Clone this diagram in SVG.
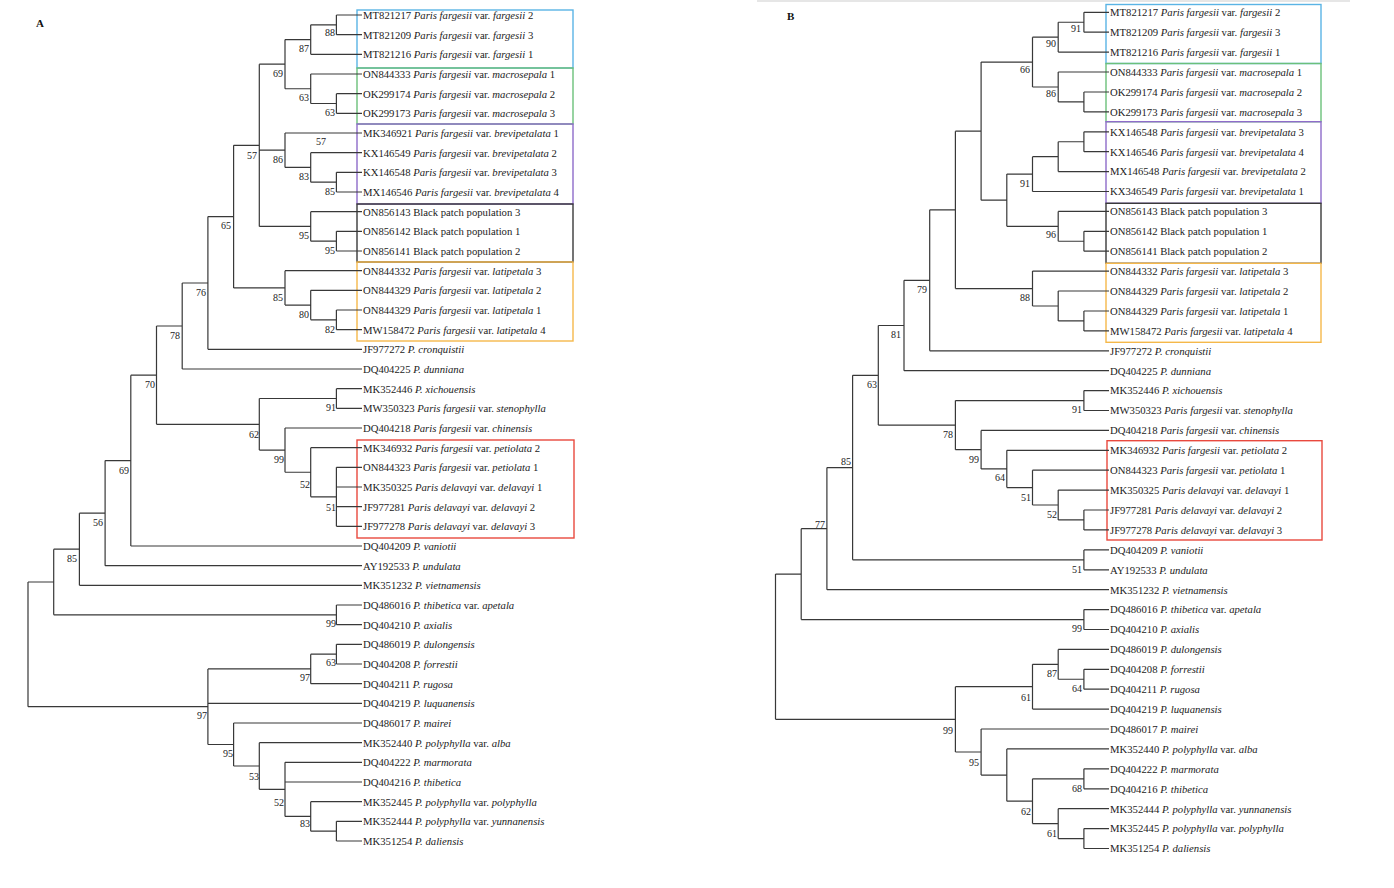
<svg xmlns="http://www.w3.org/2000/svg" width="1394" height="888" viewBox="0 0 1394 888">
<style>
.br{fill:none;stroke:#383838;stroke-width:1.2}
.lf{font-family:"Liberation Serif","Times New Roman",serif;font-size:10.7px;fill:#222}
.bs{font-family:"Liberation Serif","Times New Roman",serif;font-size:10px;fill:#222;text-anchor:end}
.i{font-style:italic}
.bx{fill:none;stroke-width:1.4}
.pl{font-family:"Liberation Serif","Times New Roman",serif;font-size:11px;font-weight:bold;fill:#111}
</style>
<rect width="1394" height="888" fill="#fff"/>
<line x1="757" y1="1" x2="1350" y2="1" stroke="#e6e6e6" stroke-width="2"/>
<text class="pl" x="36" y="27">A</text>
<text class="pl" x="787" y="20">B</text>

<g id="boxes">
<rect class="bx" x="357" y="10" width="216" height="58" stroke="#5ab4e5"/>
<rect class="bx" x="357" y="68" width="216" height="56" stroke="#6cc07a"/>
<rect class="bx" x="357" y="124" width="216" height="80" stroke="#8e6cc9"/>
<rect class="bx" x="357" y="204" width="216" height="58" stroke="#3a3a3a"/>
<rect class="bx" x="357" y="262" width="216" height="79" stroke="#f5b84a"/>
<rect class="bx" x="357" y="440" width="217" height="98" stroke="#e9493e"/>
<rect class="bx" x="1106" y="4.5" width="215" height="59" stroke="#5ab4e5"/>
<rect class="bx" x="1106" y="63.5" width="215" height="58.2" stroke="#6cc07a"/>
<rect class="bx" x="1106" y="121.7" width="215" height="81.6" stroke="#8e6cc9"/>
<rect class="bx" x="1106" y="203.3" width="215" height="60" stroke="#3a3a3a"/>
<rect class="bx" x="1106" y="263.3" width="215" height="79" stroke="#f5b84a"/>
<rect class="bx" x="1107" y="440.7" width="215" height="99.3" stroke="#e9493e"/>
</g>

<g id="connectors">
<path class="br" d="M336.4,15V34.7M336.4,15H362M336.4,34.7H362
M310.7,24.85V54.3M310.7,24.85H336.4M310.7,54.3H362
M336.4,93.7V113.3M336.4,93.7H362M336.4,113.3H362
M310.7,74V103.5M310.7,74H362M310.7,103.5H336.4
M285,39.6V88.75M285,39.6H310.7M285,88.75H310.7
M336.4,172.3V192M336.4,172.3H362M336.4,192H362
M310.7,152.7V182.15M310.7,152.7H362M310.7,182.15H336.4
M285,133V167.4M285,133H362M285,167.4H310.7
M336.4,231.3V251M336.4,231.3H362M336.4,251H362
M310.7,211.7V241.15M310.7,211.7H362M310.7,241.15H336.4
M259.3,64.2V226.4M259.3,64.2H285M259.3,150.2H285M259.3,226.4H310.7
M336.4,310V329.7M336.4,310H362M336.4,329.7H362
M310.7,290.3V319.85M310.7,290.3H362M310.7,319.85H336.4
M285,270.7V305.1M285,270.7H362M285,305.1H310.7
M233.6,145.3V287.9M233.6,145.3H259.3M233.6,287.9H285
M207.9,216.6V349.3M207.9,216.6H233.6M207.9,349.3H362
M182.2,283V369M182.2,283H207.9M182.2,369H362
M336.4,388.7V408.3M336.4,388.7H362M336.4,408.3H362
M336.4,467.3V526.3M336.4,467.3H362M336.4,487H362M336.4,506.7H362M336.4,526.3H362
M310.7,447.7V496.8M310.7,447.7H362M310.7,496.8H336.4
M285,428V472.25M285,428H362M285,472.25H310.7
M259.3,398.5V450.1M259.3,398.5H336.4M259.3,450.1H285
M156.5,326V424.3M156.5,326H182.2M156.5,424.3H259.3
M130.8,375.2V546M130.8,375.2H156.5M130.8,546H362
M105.1,460.6V565.7M105.1,460.6H130.8M105.1,565.7H362
M79.4,513.15V585.3M79.4,513.15H105.1M79.4,585.3H362
M336.4,605V624.7M336.4,605H362M336.4,624.7H362
M53.7,549.2V614.85M53.7,549.2H79.4M53.7,614.85H336.4
M336.4,644.3V664M336.4,644.3H362M336.4,664H362
M310.7,654.15V683.7M310.7,654.15H336.4M310.7,683.7H362
M336.4,821.3V841M336.4,821.3H362M336.4,841H362
M310.7,801.7V831.15M310.7,801.7H362M310.7,831.15H336.4
M285,762.3V816.4M285,762.3H362M285,782H362M285,816.4H310.7
M259.3,742.7V789.35M259.3,742.7H362M259.3,789.35H285
M233.6,723V766M233.6,723H362M233.6,766H259.3
M207.9,668.9V744.5M207.9,668.9H310.7M207.9,703.3H362M207.9,744.5H233.6
M28,582V706.7M28,582H53.7M28,706.7H207.9"/>
<path class="br" d="M1083.9,12.3V32.2M1083.9,12.3H1109M1083.9,32.2H1109
M1058.2,22.25V52.1M1058.2,22.25H1083.9M1058.2,52.1H1109
M1083.9,92V111.9M1083.9,92H1109M1083.9,111.9H1109
M1058.2,72V101.95M1058.2,72H1109M1058.2,101.95H1083.9
M1032.5,37.2V87M1032.5,37.2H1058.2M1032.5,87H1058.2
M1083.9,131.8V151.7M1083.9,131.8H1109M1083.9,151.7H1109
M1058.2,141.75V171.6M1058.2,141.75H1083.9M1058.2,171.6H1109
M1032.5,156.7V191.5M1032.5,156.7H1058.2M1032.5,191.5H1109
M1083.9,231.3V251.2M1083.9,231.3H1109M1083.9,251.2H1109
M1058.2,211.4V241.25M1058.2,211.4H1109M1058.2,241.25H1083.9
M1006.8,174.1V226.3M1006.8,174.1H1032.5M1006.8,226.3H1058.2
M981.1,62.1V200.2M981.1,62.1H1032.5M981.1,200.2H1006.8
M1083.9,311V330.9M1083.9,311H1109M1083.9,330.9H1109
M1058.2,291V320.95M1058.2,291H1109M1058.2,320.95H1083.9
M1032.5,271.1V306M1032.5,271.1H1109M1032.5,306H1058.2
M955.4,131.15V288.55M955.4,131.15H981.1M955.4,288.55H1032.5
M929.7,209.85V350.8M929.7,209.85H955.4M929.7,350.8H1109
M904,280.3V370.7M904,280.3H929.7M904,370.7H1109
M1083.9,390.6V410.5M1083.9,390.6H1109M1083.9,410.5H1109
M1083.9,510V529.9M1083.9,510H1109M1083.9,529.9H1109
M1058.2,490.1V519.95M1058.2,490.1H1109M1058.2,519.95H1083.9
M1032.5,470.2V505M1032.5,470.2H1109M1032.5,505H1058.2
M1006.8,450.3V487.6M1006.8,450.3H1109M1006.8,487.6H1032.5
M981.1,430.4V468.95M981.1,430.4H1109M981.1,468.95H1006.8
M955.4,400.55V449.7M955.4,400.55H1083.9M955.4,449.7H981.1
M878.3,325.5V425.1M878.3,325.5H904M878.3,425.1H955.4
M1083.9,549.9V569.8M1083.9,549.9H1109M1083.9,569.8H1109
M852.6,375.3V559.85M852.6,375.3H878.3M852.6,559.85H1083.9
M826.9,467.6V589.7M826.9,467.6H852.6M826.9,589.7H1109
M1083.9,609.6V629.5M1083.9,609.6H1109M1083.9,629.5H1109
M801.2,528.65V619.55M801.2,528.65H826.9M801.2,619.55H1083.9
M1083.9,669.3V689.2M1083.9,669.3H1109M1083.9,689.2H1109
M1058.2,649.4V679.25M1058.2,649.4H1109M1058.2,679.25H1083.9
M1032.5,664.3V709.1M1032.5,664.3H1058.2M1032.5,709.1H1109
M1083.9,768.8V788.8M1083.9,768.8H1109M1083.9,788.8H1109
M1083.9,828.6V848.5M1083.9,828.6H1109M1083.9,848.5H1109
M1058.2,808.7V838.55M1058.2,808.7H1109M1058.2,838.55H1083.9
M1032.5,778.8V823.6M1032.5,778.8H1083.9M1032.5,823.6H1058.2
M1006.8,748.9V801.2M1006.8,748.9H1109M1006.8,801.2H1032.5
M981.1,729V775.05M981.1,729H1109M981.1,775.05H1006.8
M955.4,686.7V752M955.4,686.7H1032.5M955.4,752H981.1
M775.5,574.1V719.35M775.5,574.1H801.2M775.5,719.35H955.4"/>
</g>

<g id="support-A">
<text class="bs" x="335" y="35.5">88</text>
<text class="bs" x="309" y="51.5">87</text>
<text class="bs" x="283" y="76.5">69</text>
<text class="bs" x="309" y="100.5">63</text>
<text class="bs" x="335" y="115.5">63</text>
<text class="bs" x="326" y="144.5">57</text>
<text class="bs" x="257" y="158.5">57</text>
<text class="bs" x="283" y="162.5">86</text>
<text class="bs" x="309" y="179.5">83</text>
<text class="bs" x="335" y="194.5">85</text>
<text class="bs" x="231" y="228.5">65</text>
<text class="bs" x="309" y="238.5">95</text>
<text class="bs" x="335" y="253.5">95</text>
<text class="bs" x="206" y="295.5">76</text>
<text class="bs" x="283" y="300.5">85</text>
<text class="bs" x="309" y="317.5">80</text>
<text class="bs" x="335" y="332.5">82</text>
<text class="bs" x="180" y="338.5">78</text>
<text class="bs" x="155" y="387.5">70</text>
<text class="bs" x="336" y="410.5">91</text>
<text class="bs" x="259" y="437.5">62</text>
<text class="bs" x="284" y="462.5">99</text>
<text class="bs" x="129" y="473.5">69</text>
<text class="bs" x="310" y="487.5">52</text>
<text class="bs" x="336" y="510.5">51</text>
<text class="bs" x="103" y="525.5">56</text>
<text class="bs" x="77" y="561.5">85</text>
<text class="bs" x="336" y="626.5">99</text>
<text class="bs" x="336" y="665.5">63</text>
<text class="bs" x="310" y="680.5">97</text>
<text class="bs" x="207" y="718.5">97</text>
<text class="bs" x="233" y="756.5">95</text>
<text class="bs" x="259" y="779.5">53</text>
<text class="bs" x="284" y="805.5">52</text>
<text class="bs" x="310" y="826.5">83</text>
</g>

<g id="support-B">
<text class="bs" x="1081" y="31.5">91</text>
<text class="bs" x="1056" y="46.5">90</text>
<text class="bs" x="1030" y="72.5">66</text>
<text class="bs" x="1056" y="96.5">86</text>
<text class="bs" x="1030" y="186.5">91</text>
<text class="bs" x="1056" y="237.5">96</text>
<text class="bs" x="927" y="292.5">79</text>
<text class="bs" x="1030" y="300.5">88</text>
<text class="bs" x="901" y="337.5">81</text>
<text class="bs" x="877" y="387.5">63</text>
<text class="bs" x="1082" y="412.5">91</text>
<text class="bs" x="953" y="437.5">78</text>
<text class="bs" x="979" y="462.5">99</text>
<text class="bs" x="851" y="464.5">85</text>
<text class="bs" x="1005" y="480.5">64</text>
<text class="bs" x="1031" y="500.5">51</text>
<text class="bs" x="1057" y="517.5">52</text>
<text class="bs" x="825" y="527.5">77</text>
<text class="bs" x="1082" y="572.5">51</text>
<text class="bs" x="1082" y="631.5">99</text>
<text class="bs" x="1057" y="676.5">87</text>
<text class="bs" x="1082" y="691.5">64</text>
<text class="bs" x="1031" y="700.5">61</text>
<text class="bs" x="953" y="733.5">99</text>
<text class="bs" x="979" y="765.5">95</text>
<text class="bs" x="1082" y="791.5">68</text>
<text class="bs" x="1031" y="814.5">62</text>
<text class="bs" x="1057" y="836.5">61</text>
</g>

<g id="A1"><text class="lf" x="363" y="18.8">MT821217 <tspan class="i">Paris fargesii</tspan> var. <tspan class="i">fargesii</tspan> 2</text></g>
<g id="A2"><text class="lf" x="363" y="38.5">MT821209 <tspan class="i">Paris fargesii</tspan> var. <tspan class="i">fargesii</tspan> 3</text></g>
<g id="A3"><text class="lf" x="363" y="58.1">MT821216 <tspan class="i">Paris fargesii</tspan> var. <tspan class="i">fargesii</tspan> 1</text></g>
<g id="A4"><text class="lf" x="363" y="77.8">ON844333 <tspan class="i">Paris fargesii</tspan> var. <tspan class="i">macrosepala</tspan> 1</text></g>
<g id="A5"><text class="lf" x="363" y="97.5">OK299174 <tspan class="i">Paris fargesii</tspan> var. <tspan class="i">macrosepala</tspan> 2</text></g>
<g id="A6"><text class="lf" x="363" y="117.1">OK299173 <tspan class="i">Paris fargesii</tspan> var. <tspan class="i">macrosepala</tspan> 3</text></g>
<g id="A7"><text class="lf" x="363" y="136.8">MK346921 <tspan class="i">Paris fargesii</tspan> var. <tspan class="i">brevipetalata</tspan> 1</text></g>
<g id="A8"><text class="lf" x="363" y="156.5">KX146549 <tspan class="i">Paris fargesii</tspan> var. <tspan class="i">brevipetalata</tspan> 2</text></g>
<g id="A9"><text class="lf" x="363" y="176.1">KX146548 <tspan class="i">Paris fargesii</tspan> var. <tspan class="i">brevipetalata</tspan> 3</text></g>
<g id="A10"><text class="lf" x="363" y="195.8">MX146546 <tspan class="i">Paris fargesii</tspan> var. <tspan class="i">brevipetalata</tspan> 4</text></g>
<g id="A11"><text class="lf" x="363" y="215.5">ON856143 Black patch population 3</text></g>
<g id="A12"><text class="lf" x="363" y="235.1">ON856142 Black patch population 1</text></g>
<g id="A13"><text class="lf" x="363" y="254.8">ON856141 Black patch population 2</text></g>
<g id="A14"><text class="lf" x="363" y="274.5">ON844332 <tspan class="i">Paris fargesii</tspan> var. <tspan class="i">latipetala</tspan> 3</text></g>
<g id="A15"><text class="lf" x="363" y="294.1">ON844329 <tspan class="i">Paris fargesii</tspan> var. <tspan class="i">latipetala</tspan> 2</text></g>
<g id="A16"><text class="lf" x="363" y="313.8">ON844329 <tspan class="i">Paris fargesii</tspan> var. <tspan class="i">latipetala</tspan> 1</text></g>
<g id="A17"><text class="lf" x="363" y="333.5">MW158472 <tspan class="i">Paris fargesii</tspan> var. <tspan class="i">latipetala</tspan> 4</text></g>
<g id="A18"><text class="lf" x="363" y="353.1">JF977272 <tspan class="i">P. cronquistii</tspan></text></g>
<g id="A19"><text class="lf" x="363" y="372.8">DQ404225 <tspan class="i">P. dunniana</tspan></text></g>
<g id="A20"><text class="lf" x="363" y="392.5">MK352446 <tspan class="i">P. xichouensis</tspan></text></g>
<g id="A21"><text class="lf" x="363" y="412.1">MW350323 <tspan class="i">Paris fargesii</tspan> var. <tspan class="i">stenophylla</tspan></text></g>
<g id="A22"><text class="lf" x="363" y="431.8">DQ404218 <tspan class="i">Paris fargesii</tspan> var. <tspan class="i">chinensis</tspan></text></g>
<g id="A23"><text class="lf" x="363" y="451.5">MK346932 <tspan class="i">Paris fargesii</tspan> var. <tspan class="i">petiolata</tspan> 2</text></g>
<g id="A24"><text class="lf" x="363" y="471.1">ON844323 <tspan class="i">Paris fargesii</tspan> var. <tspan class="i">petiolata</tspan> 1</text></g>
<g id="A25"><text class="lf" x="363" y="490.8">MK350325 <tspan class="i">Paris delavayi</tspan> var. <tspan class="i">delavayi</tspan> 1</text></g>
<g id="A26"><text class="lf" x="363" y="510.5">JF977281 <tspan class="i">Paris delavayi</tspan> var. <tspan class="i">delavayi</tspan> 2</text></g>
<g id="A27"><text class="lf" x="363" y="530.1">JF977278 <tspan class="i">Paris delavayi</tspan> var. <tspan class="i">delavayi</tspan> 3</text></g>
<g id="A28"><text class="lf" x="363" y="549.8">DQ404209 <tspan class="i">P. vaniotii</tspan></text></g>
<g id="A29"><text class="lf" x="363" y="569.5">AY192533 <tspan class="i">P. undulata</tspan></text></g>
<g id="A30"><text class="lf" x="363" y="589.1">MK351232 <tspan class="i">P. vietnamensis</tspan></text></g>
<g id="A31"><text class="lf" x="363" y="608.8">DQ486016 <tspan class="i">P. thibetica</tspan> var. <tspan class="i">apetala</tspan></text></g>
<g id="A32"><text class="lf" x="363" y="628.5">DQ404210 <tspan class="i">P. axialis</tspan></text></g>
<g id="A33"><text class="lf" x="363" y="648.1">DQ486019 <tspan class="i">P. dulongensis</tspan></text></g>
<g id="A34"><text class="lf" x="363" y="667.8">DQ404208 <tspan class="i">P. forrestii</tspan></text></g>
<g id="A35"><text class="lf" x="363" y="687.5">DQ404211 <tspan class="i">P. rugosa</tspan></text></g>
<g id="A36"><text class="lf" x="363" y="707.1">DQ404219 <tspan class="i">P. luquanensis</tspan></text></g>
<g id="A37"><text class="lf" x="363" y="726.8">DQ486017 <tspan class="i">P. mairei</tspan></text></g>
<g id="A38"><text class="lf" x="363" y="746.5">MK352440 <tspan class="i">P. polyphylla</tspan> var. <tspan class="i">alba</tspan></text></g>
<g id="A39"><text class="lf" x="363" y="766.1">DQ404222 <tspan class="i">P. marmorata</tspan></text></g>
<g id="A40"><text class="lf" x="363" y="785.8">DQ404216 <tspan class="i">P. thibetica</tspan></text></g>
<g id="A41"><text class="lf" x="363" y="805.5">MK352445 <tspan class="i">P. polyphylla</tspan> var. <tspan class="i">polyphylla</tspan></text></g>
<g id="A42"><text class="lf" x="363" y="825.1">MK352444 <tspan class="i">P. polyphylla</tspan> var. <tspan class="i">yunnanensis</tspan></text></g>
<g id="A43"><text class="lf" x="363" y="844.8">MK351254 <tspan class="i">P. daliensis</tspan></text></g>

<g id="B1"><text class="lf" x="1110" y="16.1">MT821217 <tspan class="i">Paris fargesii</tspan> var. <tspan class="i">fargesii</tspan> 2</text></g>
<g id="B2"><text class="lf" x="1110" y="36">MT821209 <tspan class="i">Paris fargesii</tspan> var. <tspan class="i">fargesii</tspan> 3</text></g>
<g id="B3"><text class="lf" x="1110" y="55.9">MT821216 <tspan class="i">Paris fargesii</tspan> var. <tspan class="i">fargesii</tspan> 1</text></g>
<g id="B4"><text class="lf" x="1110" y="75.8">ON844333 <tspan class="i">Paris fargesii</tspan> var. <tspan class="i">macrosepala</tspan> 1</text></g>
<g id="B5"><text class="lf" x="1110" y="95.8">OK299174 <tspan class="i">Paris fargesii</tspan> var. <tspan class="i">macrosepala</tspan> 2</text></g>
<g id="B6"><text class="lf" x="1110" y="115.7">OK299173 <tspan class="i">Paris fargesii</tspan> var. <tspan class="i">macrosepala</tspan> 3</text></g>
<g id="B7"><text class="lf" x="1110" y="135.6">KX146548 <tspan class="i">Paris fargesii</tspan> var. <tspan class="i">brevipetalata</tspan> 3</text></g>
<g id="B8"><text class="lf" x="1110" y="155.5">KX146546 <tspan class="i">Paris fargesii</tspan> var. <tspan class="i">brevipetalata</tspan> 4</text></g>
<g id="B9"><text class="lf" x="1110" y="175.4">MX146548 <tspan class="i">Paris fargesii</tspan> var. <tspan class="i">brevipetalata</tspan> 2</text></g>
<g id="B10"><text class="lf" x="1110" y="195.3">KX346549 <tspan class="i">Paris fargesii</tspan> var. <tspan class="i">brevipetalata</tspan> 1</text></g>
<g id="B11"><text class="lf" x="1110" y="215.2">ON856143 Black patch population 3</text></g>
<g id="B12"><text class="lf" x="1110" y="235.1">ON856142 Black patch population 1</text></g>
<g id="B13"><text class="lf" x="1110" y="255">ON856141 Black patch population 2</text></g>
<g id="B14"><text class="lf" x="1110" y="274.9">ON844332 <tspan class="i">Paris fargesii</tspan> var. <tspan class="i">latipetala</tspan> 3</text></g>
<g id="B15"><text class="lf" x="1110" y="294.8">ON844329 <tspan class="i">Paris fargesii</tspan> var. <tspan class="i">latipetala</tspan> 2</text></g>
<g id="B16"><text class="lf" x="1110" y="314.8">ON844329 <tspan class="i">Paris fargesii</tspan> var. <tspan class="i">latipetala</tspan> 1</text></g>
<g id="B17"><text class="lf" x="1110" y="334.7">MW158472 <tspan class="i">Paris fargesii</tspan> var. <tspan class="i">latipetala</tspan> 4</text></g>
<g id="B18"><text class="lf" x="1110" y="354.6">JF977272 <tspan class="i">P. cronquistii</tspan></text></g>
<g id="B19"><text class="lf" x="1110" y="374.5">DQ404225 <tspan class="i">P. dunniana</tspan></text></g>
<g id="B20"><text class="lf" x="1110" y="394.4">MK352446 <tspan class="i">P. xichouensis</tspan></text></g>
<g id="B21"><text class="lf" x="1110" y="414.3">MW350323 <tspan class="i">Paris fargesii</tspan> var. <tspan class="i">stenophylla</tspan></text></g>
<g id="B22"><text class="lf" x="1110" y="434.2">DQ404218 <tspan class="i">Paris fargesii</tspan> var. <tspan class="i">chinensis</tspan></text></g>
<g id="B23"><text class="lf" x="1110" y="454.1">MK346932 <tspan class="i">Paris fargesii</tspan> var. <tspan class="i">petiolata</tspan> 2</text></g>
<g id="B24"><text class="lf" x="1110" y="474">ON844323 <tspan class="i">Paris fargesii</tspan> var. <tspan class="i">petiolata</tspan> 1</text></g>
<g id="B25"><text class="lf" x="1110" y="493.9">MK350325 <tspan class="i">Paris delavayi</tspan> var. <tspan class="i">delavayi</tspan> 1</text></g>
<g id="B26"><text class="lf" x="1110" y="513.8">JF977281 <tspan class="i">Paris delavayi</tspan> var. <tspan class="i">delavayi</tspan> 2</text></g>
<g id="B27"><text class="lf" x="1110" y="533.7">JF977278 <tspan class="i">Paris delavayi</tspan> var. <tspan class="i">delavayi</tspan> 3</text></g>
<g id="B28"><text class="lf" x="1110" y="553.7">DQ404209 <tspan class="i">P. vaniotii</tspan></text></g>
<g id="B29"><text class="lf" x="1110" y="573.6">AY192533 <tspan class="i">P. undulata</tspan></text></g>
<g id="B30"><text class="lf" x="1110" y="593.5">MK351232 <tspan class="i">P. vietnamensis</tspan></text></g>
<g id="B31"><text class="lf" x="1110" y="613.4">DQ486016 <tspan class="i">P. thibetica</tspan> var. <tspan class="i">apetala</tspan></text></g>
<g id="B32"><text class="lf" x="1110" y="633.3">DQ404210 <tspan class="i">P. axialis</tspan></text></g>
<g id="B33"><text class="lf" x="1110" y="653.2">DQ486019 <tspan class="i">P. dulongensis</tspan></text></g>
<g id="B34"><text class="lf" x="1110" y="673.1">DQ404208 <tspan class="i">P. forrestii</tspan></text></g>
<g id="B35"><text class="lf" x="1110" y="693">DQ404211 <tspan class="i">P. rugosa</tspan></text></g>
<g id="B36"><text class="lf" x="1110" y="712.9">DQ404219 <tspan class="i">P. luquanensis</tspan></text></g>
<g id="B37"><text class="lf" x="1110" y="732.8">DQ486017 <tspan class="i">P. mairei</tspan></text></g>
<g id="B38"><text class="lf" x="1110" y="752.7">MK352440 <tspan class="i">P. polyphylla</tspan> var. <tspan class="i">alba</tspan></text></g>
<g id="B39"><text class="lf" x="1110" y="772.6">DQ404222 <tspan class="i">P. marmorata</tspan></text></g>
<g id="B40"><text class="lf" x="1110" y="792.6">DQ404216 <tspan class="i">P. thibetica</tspan></text></g>
<g id="B41"><text class="lf" x="1110" y="812.5">MK352444 <tspan class="i">P. polyphylla</tspan> var. <tspan class="i">yunnanensis</tspan></text></g>
<g id="B42"><text class="lf" x="1110" y="832.4">MK352445 <tspan class="i">P. polyphylla</tspan> var. <tspan class="i">polyphylla</tspan></text></g>
<g id="B43"><text class="lf" x="1110" y="852.3">MK351254 <tspan class="i">P. daliensis</tspan></text></g>
</svg>
